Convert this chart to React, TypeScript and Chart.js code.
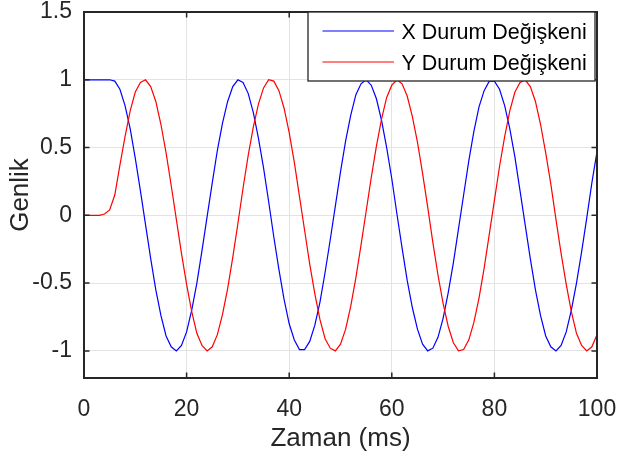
import { useEffect, useRef } from "react";
import { Chart, registerables } from "chart.js";

Chart.register(...registerables);

// ---- data ----
const time = [
  0, 1, 2, 3, 4, 5, 6, 7, 8, 9, 10, 11, 12, 13, 14, 15, 16, 17, 18, 19, 20,
  21, 22, 23, 24, 25, 26, 27, 28, 29, 30, 31, 32, 33, 34, 35, 36, 37, 38, 39, 40,
  41, 42, 43, 44, 45, 46, 47, 48, 49, 50, 51, 52, 53, 54, 55, 56, 57, 58, 59, 60,
  61, 62, 63, 64, 65, 66, 67, 68, 69, 70, 71, 72, 73, 74, 75, 76, 77, 78, 79, 80,
  81, 82, 83, 84, 85, 86, 87, 88, 89, 90, 91, 92, 93, 94, 95, 96, 97, 98, 99, 100,
];

const xState = [
  1, 1, 1, 1, 1, 1, 0.99, 0.93, 0.81, 0.64, 0.42,
  0.18, -0.07, -0.32, -0.55, -0.74, -0.89, -0.97, -1.0, -0.96, -0.86,
  -0.7, -0.5, -0.26, -0.01, 0.24, 0.48, 0.68, 0.84, 0.95, 1.0,
  0.98, 0.9, 0.76, 0.57, 0.35, 0.1, -0.16, -0.4, -0.62, -0.8,
  -0.92, -0.99, -0.99, -0.93, -0.81, -0.64, -0.42, -0.18, 0.07, 0.32,
  0.55, 0.74, 0.89, 0.97, 1.0, 0.96, 0.86, 0.7, 0.5, 0.27,
  0.01, -0.24, -0.48, -0.68, -0.84, -0.95, -1.0, -0.98, -0.9, -0.76,
  -0.57, -0.35, -0.1, 0.15, 0.4, 0.62, 0.8, 0.92, 0.99, 0.99,
  0.93, 0.81, 0.64, 0.43, 0.18, -0.07, -0.32, -0.55, -0.74, -0.89,
  -0.97, -1.0, -0.96, -0.86, -0.7, -0.5, -0.27, -0.02, 0.24, 0.47,
];

const yState = [
  0, 0, 0, 0, 0.01, 0.04, 0.15, 0.37, 0.58, 0.77, 0.91,
  0.98, 1.0, 0.95, 0.84, 0.67, 0.46, 0.22, -0.03, -0.28, -0.51,
  -0.71, -0.87, -0.96, -1.0, -0.97, -0.88, -0.73, -0.54, -0.31, -0.06,
  0.2, 0.44, 0.65, 0.82, 0.94, 1.0, 0.99, 0.92, 0.79, 0.61,
  0.39, 0.14, -0.11, -0.36, -0.58, -0.77, -0.91, -0.98, -1.0, -0.95,
  -0.84, -0.67, -0.46, -0.22, 0.03, 0.28, 0.51, 0.71, 0.87, 0.96,
  1.0, 0.97, 0.88, 0.73, 0.54, 0.31, 0.06, -0.2, -0.44, -0.65,
  -0.82, -0.94, -1.0, -0.99, -0.92, -0.79, -0.61, -0.39, -0.14, 0.11,
  0.36, 0.58, 0.77, 0.91, 0.98, 1.0, 0.95, 0.84, 0.67, 0.46,
  0.23, -0.03, -0.28, -0.51, -0.71, -0.87, -0.96, -1.0, -0.97, -0.88,
];

const xTicks = [0, 20, 40, 60, 80, 100];
const yTicks = [-1, -0.5, 0, 0.5, 1, 1.5];
const xRange = [0, 100];
const yRange = [-1.2, 1.5];
const seriesLabels = ["X Durum Değişkeni", "Y Durum Değişkeni"];
const seriesColors = ["#0000ff", "#ff0000"];
const xTitle = "Zaman (ms)";
const yTitle = "Genlik";

// ---- styles ----
const FONT = "'Liberation Sans', Arial, Helvetica, sans-serif";
const AXIS = "#262626";
const GRID = "#e3e3e3";
const TICK_LEN = 5.5;

const framePlugin = {
  id: "matlabFrame",
  afterDatasetsDraw(chart: any) {
    const { ctx, chartArea: a, scales } = chart;
    ctx.save();
    ctx.strokeStyle = AXIS;
    ctx.lineWidth = 1.5;
    ctx.beginPath();
    xTicks.forEach((v) => {
      const px = scales.x.getPixelForValue(v);
      ctx.moveTo(px, a.bottom);
      ctx.lineTo(px, a.bottom - TICK_LEN);
      ctx.moveTo(px, a.top);
      ctx.lineTo(px, a.top + TICK_LEN);
    });
    yTicks.forEach((v) => {
      const py = scales.y.getPixelForValue(v);
      ctx.moveTo(a.left, py);
      ctx.lineTo(a.left + TICK_LEN, py);
      ctx.moveTo(a.right, py);
      ctx.lineTo(a.right - TICK_LEN, py);
    });
    ctx.stroke();
    ctx.lineWidth = 2;
    ctx.strokeRect(a.left, a.top, a.right - a.left, a.bottom - a.top);

    // legend
    const lw = 287;
    const lh = 69;
    const lx = a.right - 2 - lw;
    const ly = a.top;
    ctx.fillStyle = "#ffffff";
    ctx.fillRect(lx, ly, lw, lh);
    ctx.lineWidth = 1.3;
    ctx.strokeStyle = AXIS;
    ctx.strokeRect(lx, ly, lw, lh);
    const rows = [19, 50];
    chart.data.datasets.forEach((ds: any, i: number) => {
      const ry = ly + rows[i];
      ctx.strokeStyle = ds.borderColor;
      ctx.lineWidth = 1.2;
      ctx.beginPath();
      ctx.moveTo(lx + 14.5, ry);
      ctx.lineTo(lx + 86, ry);
      ctx.stroke();
      ctx.fillStyle = "#000000";
      ctx.font = `21.5px ${FONT}`;
      ctx.textAlign = "left";
      ctx.textBaseline = "middle";
      ctx.fillText(ds.label, lx + 93.5, ry + 2.5);
    });
    ctx.restore();
  },
};

export default function App() {
  const ref = useRef<HTMLCanvasElement | null>(null);

  useEffect(() => {
    if (!ref.current) return;
    const series = [xState, yState];
    const chart = new Chart(ref.current, {
      type: "line",
      data: {
        datasets: series.map((vals, i) => ({
          label: seriesLabels[i],
          data: time.map((t, k) => ({ x: t, y: vals[k] })),
          borderColor: seriesColors[i],
          backgroundColor: seriesColors[i],
          borderWidth: 1.2,
          pointRadius: 0,
          tension: 0,
          fill: false,
          order: 1 - i,
        })),
      },
      options: {
        animation: false,
        responsive: false,
        maintainAspectRatio: false,
        events: [],
        layout: { padding: { left: 0, right: 20, top: 12, bottom: 0 } },
        plugins: {
          legend: { display: false },
          tooltip: { enabled: false },
        },
        scales: {
          x: {
            type: "linear",
            min: xRange[0],
            max: xRange[1],
            afterBuildTicks: (s: any) => {
              s.ticks = xTicks.map((v) => ({ value: v }));
            },
            afterFit: (s: any) => {
              s.height = 79;
              s.paddingLeft = 0;
              s.paddingRight = 0;
              s.paddingTop = 0;
              s.paddingBottom = 0;
            },
            grid: { color: GRID, lineWidth: 1, drawTicks: false },
            border: { display: false },
            ticks: {
              color: AXIS,
              font: { family: FONT, size: 23, lineHeight: 1 },
              padding: 20,
              maxRotation: 0,
              autoSkip: false,
              callback: (v: any) => String(v),
            },
            title: {
              display: true,
              text: xTitle,
              color: AXIS,
              font: { family: FONT, size: 26 },
              padding: { top: 0, bottom: 3 },
            },
          },
          y: {
            type: "linear",
            min: yRange[0],
            max: yRange[1],
            afterBuildTicks: (s: any) => {
              s.ticks = yTicks.map((v) => ({ value: v }));
            },
            afterFit: (s: any) => {
              s.width = 84;
              s.paddingLeft = 0;
              s.paddingRight = 0;
              s.paddingTop = 0;
              s.paddingBottom = 0;
            },
            grid: { color: GRID, lineWidth: 1, drawTicks: false },
            border: { display: false },
            ticks: {
              color: AXIS,
              font: { family: FONT, size: 23, lineHeight: 1 },
              padding: 12,
              autoSkip: false,
              callback: (v: any) => String(v),
            },
            title: {
              display: true,
              text: yTitle,
              color: AXIS,
              font: { family: FONT, size: 26 },
              padding: { top: 5, bottom: 0 },
            },
          },
        },
      },
      plugins: [framePlugin],
    });
    return () => chart.destroy();
  }, []);

  return (
    <canvas
      ref={ref}
      width={617}
      height={457}
      style={{ position: "fixed", left: 0, top: 0, display: "block" }}
    />
  );
}
